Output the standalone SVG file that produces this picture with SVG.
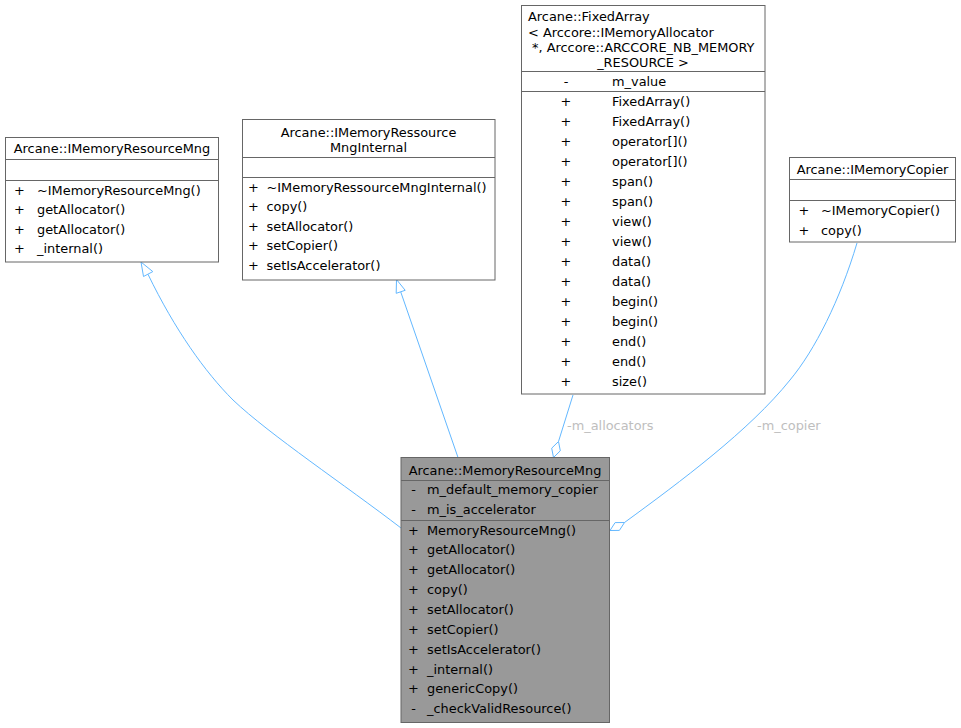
<svg xmlns="http://www.w3.org/2000/svg" width="961" height="728" viewBox="0 0 961 728">
<style>
rect.box{fill:#ffffff;stroke:#666666;stroke-width:1}
rect.cur{fill:#999999;stroke:#666666;stroke-width:1}
line.sep{stroke:#666666;stroke-width:1}
text{font-family:"DejaVu Sans","Liberation Sans",sans-serif;font-size:12.9px;fill:#000000}
text.c{text-anchor:middle}
.edge{fill:none;stroke:#63b8ff;stroke-width:1}
.head{fill:#ffffff;stroke:#63b8ff;stroke-width:1}
text.lbl{fill:#bebebe}
</style>
<rect width="961" height="728" fill="#ffffff"/>

<g id="edges">
  <path class="edge" d="M401,528 C345,485 270,435 233,400 C205,372 175,330 148,274.3"/>
  <polygon class="head" points="141,262 143.5,276.5 152.8,271.6"/>
  <path class="edge" d="M458,457.5 L400.7,291.8"/>
  <polygon class="head" points="396.5,279.5 396.2,293.3 405.2,290.3"/>
  <path class="edge" d="M573,395 L558.5,441.5"/>
  <polygon class="head" points="558.5,441.5 560.3,450.8 553.5,457.5 551.7,448.2"/>
  <text class="lbl" x="567" y="429.5">-m_allocators</text>
  <path class="edge" d="M857,243 C840,300 815,350 790,380 C750,430 680,482 624.5,522.5"/>
  <polygon class="head" points="624.5,522.5 619.4,530.4 610,530.5 615.1,522.6"/>
  <text class="lbl" x="757" y="429.5">-m_copier</text>
</g>

<g id="node_IMemoryResourceMng">
  <rect class="box" x="5.5" y="137.5" width="213" height="124.5"/>
  <line class="sep" x1="5.5" y1="159.5" x2="218.5" y2="159.5"/>
  <line class="sep" x1="5.5" y1="180.5" x2="218.5" y2="180.5"/>
  <text class="c" x="112" y="153">Arcane::IMemoryResourceMng</text>
  <text class="c" x="19.5" y="194.5">+</text><text x="37" y="194.5">~IMemoryResourceMng()</text>
  <text class="c" x="19.5" y="214">+</text><text x="37" y="214">getAllocator()</text>
  <text class="c" x="19.5" y="233.5">+</text><text x="37" y="233.5">getAllocator()</text>
  <text class="c" x="19.5" y="253">+</text><text x="37" y="253">_internal()</text>
</g>

<g id="node_IMemoryRessourceMngInternal">
  <rect class="box" x="242.5" y="119.5" width="252.5" height="160.5"/>
  <line class="sep" x1="242.5" y1="157.5" x2="495" y2="157.5"/>
  <line class="sep" x1="242.5" y1="177.5" x2="495" y2="177.5"/>
  <text class="c" x="368.5" y="136.5">Arcane::IMemoryRessource</text>
  <text class="c" x="368.5" y="151.5">MngInternal</text>
  <text class="c" x="253.5" y="191.5">+</text><text x="266.5" y="191.5">~IMemoryRessourceMngInternal()</text>
  <text class="c" x="253.5" y="211">+</text><text x="266.5" y="211">copy()</text>
  <text class="c" x="253.5" y="230.5">+</text><text x="266.5" y="230.5">setAllocator()</text>
  <text class="c" x="253.5" y="250">+</text><text x="266.5" y="250">setCopier()</text>
  <text class="c" x="253.5" y="269.5">+</text><text x="266.5" y="269.5">setIsAccelerator()</text>
</g>

<g id="node_FixedArray">
  <rect class="box" x="521.5" y="5.5" width="243.5" height="388.5"/>
  <line class="sep" x1="521.5" y1="71.5" x2="765" y2="71.5"/>
  <line class="sep" x1="521.5" y1="91.5" x2="765" y2="91.5"/>
  <text x="528" y="21">Arcane::FixedArray</text>
  <text x="528" y="36.5">&lt; Arccore::IMemoryAllocator</text>
  <text x="532" y="51.8">*, Arccore::ARCCORE_NB_MEMORY</text>
  <text class="c" x="643" y="67">_RESOURCE &gt;</text>
  <text class="c" x="566" y="85.5">-</text><text x="612" y="85.5">m_value</text>
  <text class="c" x="566" y="105.5">+</text><text x="612" y="105.5">FixedArray()</text>
  <text class="c" x="566" y="125.5">+</text><text x="612" y="125.5">FixedArray()</text>
  <text class="c" x="566" y="145.5">+</text><text x="612" y="145.5">operator[]()</text>
  <text class="c" x="566" y="165.5">+</text><text x="612" y="165.5">operator[]()</text>
  <text class="c" x="566" y="185.5">+</text><text x="612" y="185.5">span()</text>
  <text class="c" x="566" y="205.5">+</text><text x="612" y="205.5">span()</text>
  <text class="c" x="566" y="225.5">+</text><text x="612" y="225.5">view()</text>
  <text class="c" x="566" y="245.5">+</text><text x="612" y="245.5">view()</text>
  <text class="c" x="566" y="265.5">+</text><text x="612" y="265.5">data()</text>
  <text class="c" x="566" y="285.5">+</text><text x="612" y="285.5">data()</text>
  <text class="c" x="566" y="305.5">+</text><text x="612" y="305.5">begin()</text>
  <text class="c" x="566" y="325.5">+</text><text x="612" y="325.5">begin()</text>
  <text class="c" x="566" y="345.5">+</text><text x="612" y="345.5">end()</text>
  <text class="c" x="566" y="365.5">+</text><text x="612" y="365.5">end()</text>
  <text class="c" x="566" y="385.5">+</text><text x="612" y="385.5">size()</text>
</g>

<g id="node_IMemoryCopier">
  <rect class="box" x="789.5" y="157.5" width="166" height="84.5"/>
  <line class="sep" x1="789.5" y1="179.5" x2="955.5" y2="179.5"/>
  <line class="sep" x1="789.5" y1="200.5" x2="955.5" y2="200.5"/>
  <text class="c" x="872.5" y="173.5">Arcane::IMemoryCopier</text>
  <text class="c" x="804" y="215">+</text><text x="821" y="215">~IMemoryCopier()</text>
  <text class="c" x="804" y="234.5">+</text><text x="821" y="234.5">copy()</text>
</g>

<g id="node_MemoryResourceMng">
  <rect class="cur" x="401" y="457.5" width="208.5" height="265"/>
  <line class="sep" x1="401" y1="480.5" x2="609.5" y2="480.5"/>
  <line class="sep" x1="401" y1="520.5" x2="609.5" y2="520.5"/>
  <text class="c" x="505" y="474.5">Arcane::MemoryResourceMng</text>
  <text class="c" x="413.5" y="494">-</text><text x="427" y="494">m_default_memory_copier</text>
  <text class="c" x="413.5" y="514">-</text><text x="427" y="514">m_is_accelerator</text>
  <text class="c" x="413.5" y="534.5">+</text><text x="427" y="534.5">MemoryResourceMng()</text>
  <text class="c" x="413.5" y="554.4">+</text><text x="427" y="554.4">getAllocator()</text>
  <text class="c" x="413.5" y="574.2">+</text><text x="427" y="574.2">getAllocator()</text>
  <text class="c" x="413.5" y="594.1">+</text><text x="427" y="594.1">copy()</text>
  <text class="c" x="413.5" y="613.9">+</text><text x="427" y="613.9">setAllocator()</text>
  <text class="c" x="413.5" y="633.8">+</text><text x="427" y="633.8">setCopier()</text>
  <text class="c" x="413.5" y="653.6">+</text><text x="427" y="653.6">setIsAccelerator()</text>
  <text class="c" x="413.5" y="673.5">+</text><text x="427" y="673.5">_internal()</text>
  <text class="c" x="413.5" y="693.3">+</text><text x="427" y="693.3">genericCopy()</text>
  <text class="c" x="413.5" y="713.2">-</text><text x="427" y="713.2">_checkValidResource()</text>
</g>
</svg>
